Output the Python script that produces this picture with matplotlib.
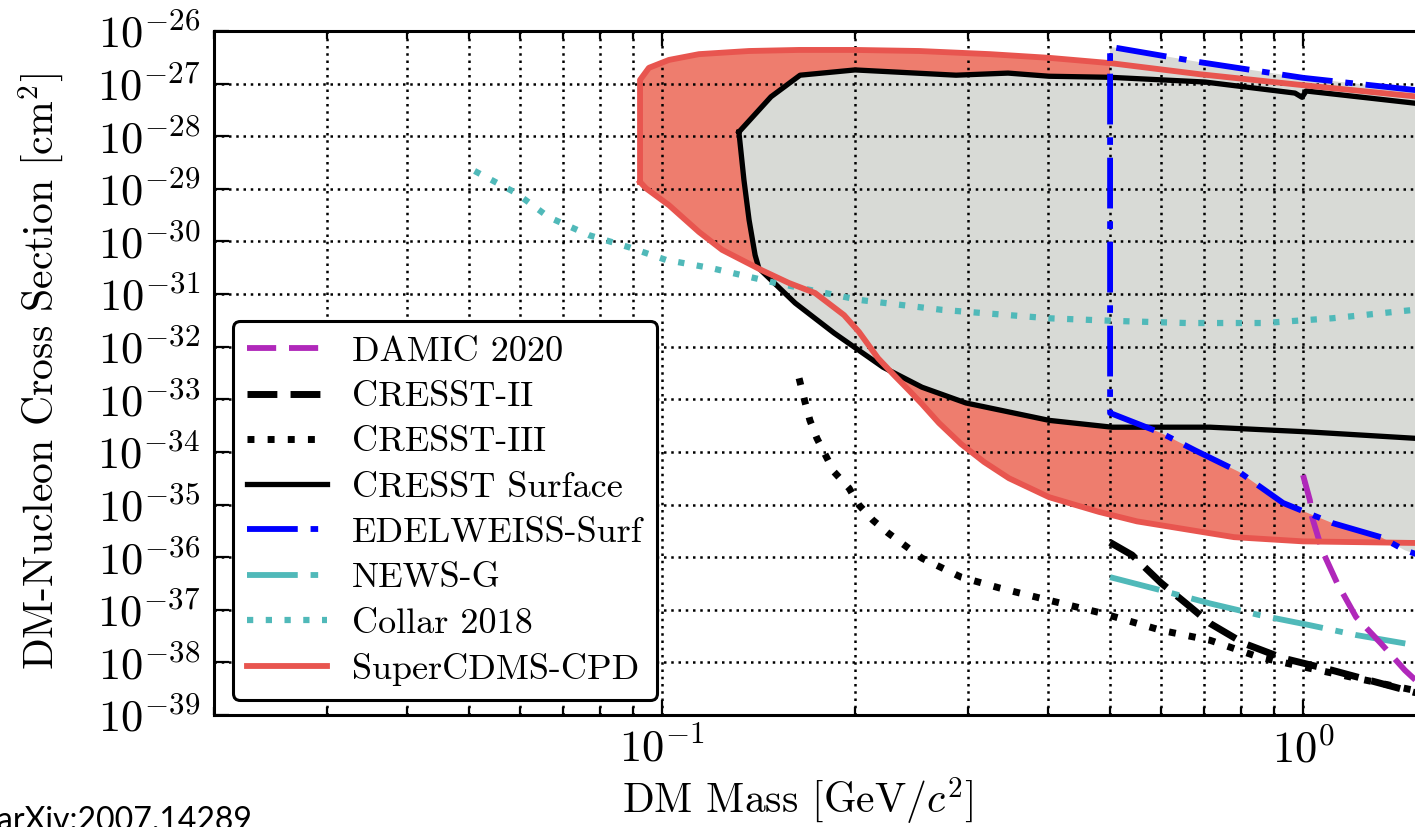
import numpy as np
import matplotlib
matplotlib.use('Agg')
import matplotlib.pyplot as plt
from matplotlib.ticker import LogLocator, FuncFormatter, NullLocator, NullFormatter

# ---------------- data (mass in GeV/c^2, log10 of cross section in cm^2) ----------------
cpd_mass = [0.0924, 0.0924, 0.0954, 0.1025, 0.1142, 0.1367, 0.1636, 0.2, 0.2518, 0.3249,
            0.4016, 0.5, 0.6884, 1.0, 1.49, 1.69,
            1.69, 1.49, 1.0, 0.7804, 0.5508, 0.4805, 0.4016, 0.3477, 0.3179, 0.2928, 0.2704,
            0.2544, 0.2428, 0.2301, 0.2173, 0.2029, 0.1923, 0.1733, 0.1578, 0.1427, 0.1241, 0.1142,
            0.1025, 0.0944, 0.0924]
cpd_logsig = [-28.87, -26.93, -26.70, -26.55, -26.44, -26.38, -26.36, -26.36, -26.38, -26.44,
              -26.51, -26.61, -26.82, -27.03, -27.24, -27.31,
              -35.75, -35.73, -35.70, -35.62, -35.32, -35.14, -34.86, -34.50, -34.19, -33.85, -33.45,
              -33.09, -32.83, -32.54, -32.22, -31.72, -31.40, -30.98, -30.79, -30.54, -30.16, -29.82,
              -29.31, -28.99, -28.87]

cs_mass = [0.1318, 0.1479, 0.1642, 0.2, 0.2876, 0.3465, 0.4016, 0.5, 0.7033, 0.9716, 0.9964,
           1.011, 1.49, 1.69,
           1.69, 1.49, 1.022, 0.7161, 0.5035, 0.4016, 0.2980, 0.2544, 0.2212, 0.1855, 0.1613,
           0.1416, 0.1397, 0.1367, 0.1342, 0.1318]
cs_logsig = [-27.92, -27.25, -26.84, -26.74, -26.84, -26.80, -26.86, -26.88, -26.97, -27.18, -27.26,
             -27.14, -27.37, -27.46,
             -33.78, -33.74, -33.62, -33.53, -33.53, -33.40, -33.07, -32.77, -32.39, -31.74, -31.17,
             -30.51, -30.26, -29.59, -28.83, -27.92]

ed_mass = [1.69, 1.49, 1.0, 0.6884, 0.5, 0.5, 0.6006, 0.6785, 0.7948, 0.9307, 1.110, 1.323, 1.442, 1.69]
ed_logsig = [-27.20, -27.12, -26.89, -26.59, -26.30, -33.26, -33.64, -33.97, -34.38, -34.97,
             -35.35, -35.62, -35.87, -36.15]

collar_mass = [0.051, 0.0592, 0.0666, 0.0769, 0.0888, 0.1014, 0.1197, 0.1506, 0.2029, 0.2734,
               0.4016, 0.5089, 0.657, 0.8694, 1.110, 1.49, 1.69]
collar_logsig = [-28.66, -29.08, -29.54, -29.88, -30.11, -30.35, -30.51, -30.79, -31.11, -31.30,
                 -31.46, -31.51, -31.55, -31.55, -31.46, -31.30, -31.23]

c3_mass = [0.1636, 0.1671, 0.1701, 0.1744, 0.1855, 0.1958, 0.2029, 0.2134, 0.2252, 0.2544, 0.2928,
           0.3370, 0.4016, 0.4875, 0.6006, 0.7161, 0.8538, 1.022, 1.210, 1.49, 1.69]
c3_logsig = [-32.60, -33.05, -33.40, -33.74, -34.38, -34.69, -35.01, -35.30, -35.54, -36.02, -36.38,
             -36.59, -36.82, -37.07, -37.39, -37.58, -37.90, -38.11, -38.30, -38.53, -38.62]

c2_mass = [0.5, 0.541, 0.6006, 0.657, 0.7161, 0.8091, 0.9307, 1.110, 1.323, 1.49, 1.69]
c2_logsig = [-35.72, -35.96, -36.49, -36.88, -37.26, -37.64, -37.92, -38.15, -38.40, -38.57, -38.65]

ng_mass = [0.5, 0.6006, 0.7161, 0.8538, 1.022, 1.210, 1.49, 1.69]
ng_logsig = [-36.38, -36.63, -36.88, -37.10, -37.29, -37.48, -37.67, -37.75]

damic_mass = [1.0, 1.025, 1.033, 1.071, 1.130, 1.210, 1.323, 1.442, 1.517]
damic_logsig = [-34.44, -34.92, -35.24, -35.87, -36.49, -37.14, -37.64, -38.15, -38.40]

legend_labels = ['DAMIC 2020', 'CRESST-II', 'CRESST-III', 'CRESST Surface',
                 'EDELWEISS-Surf', 'NEWS-G', 'Collar 2018', 'SuperCDMS-CPD']

# ---------------- style ----------------
plt.rcParams['font.family'] = 'serif'
plt.rcParams['font.serif'] = ['cmr10']
plt.rcParams['mathtext.fontset'] = 'cm'
plt.rcParams['axes.formatter.use_mathtext'] = True
plt.rcParams['axes.unicode_minus'] = False

RED_FILL = '#EE7D6E'
RED_LINE = '#E8554F'
GREY = '#D8DAD6'
BLUE = '#0000FF'
TEAL = '#50B9B9'
MAGENTA = '#B028BA'

W, H = 1415, 827
fig = plt.figure(figsize=(W / 100, H / 100), dpi=100)

XMIN, XMAX = 0.02, 10.0
left_px, top_px, bottom_px, decade_px = 214, 31, 715, 641
width_px = decade_px * np.log10(XMAX / XMIN)
ax = fig.add_axes([left_px / W, 1 - bottom_px / H, width_px / W, (bottom_px - top_px) / H])
ax.set_xscale('log')
ax.set_yscale('log')
ax.set_xlim(XMIN, XMAX)
ax.set_ylim(1e-39, 1e-26)

def sig(a):
    return 10.0 ** np.asarray(a)

# filled regions
ax.fill(cpd_mass, sig(cpd_logsig), color=RED_FILL, lw=0, zorder=0.2)
ax.fill(cs_mass, sig(cs_logsig), color=GREY, lw=0, zorder=0.3)
ax.fill(ed_mass, sig(ed_logsig), color=GREY, lw=0, zorder=0.3)

# lines
h_cs, = ax.plot(cs_mass, sig(cs_logsig), color='black', lw=3.8, zorder=3)
h_cpd, = ax.plot(cpd_mass, sig(cpd_logsig), color=RED_LINE, lw=4.2, zorder=3.2)
h_ed, = ax.plot(ed_mass, sig(ed_logsig), color=BLUE, lw=4.2, dashes=(8.7, 2.2, 1.3, 2.2), zorder=3.4)
h_col, = ax.plot(collar_mass, sig(collar_logsig), color=TEAL, lw=4.5, dashes=(1.0, 2.0), zorder=3)
h_c3, = ax.plot(c3_mass, sig(c3_logsig), color='black', lw=5.0, dashes=(1.0, 1.9), zorder=3)
h_c2, = ax.plot(c2_mass, sig(c2_logsig), color='black', lw=5.0, dashes=(4.3, 1.9), zorder=3)
h_ng, = ax.plot(ng_mass, sig(ng_logsig), color=TEAL, lw=4.2, dashes=(8.7, 2.2, 1.3, 2.2), zorder=3)
h_dm, = ax.plot(damic_mass, sig(damic_logsig), color=MAGENTA, lw=4.2, dashes=(5.0, 2.2), zorder=3)

# ticks & grid
def fmt(v, pos):
    return r'$10^{%d}$' % int(round(np.log10(v)))

ax.yaxis.set_major_locator(LogLocator(base=10, numticks=40))
ax.yaxis.set_minor_locator(NullLocator())
ax.yaxis.set_major_formatter(FuncFormatter(fmt))
ax.xaxis.set_major_locator(LogLocator(base=10, numticks=10))
ax.xaxis.set_minor_locator(LogLocator(base=10, subs=np.arange(2, 10), numticks=40))
ax.xaxis.set_major_formatter(FuncFormatter(fmt))
ax.xaxis.set_minor_formatter(NullFormatter())

ax.tick_params(which='both', direction='in', top=True, right=True, labelsize=32, width=1.6)
ax.tick_params(which='major', length=11, pad=10)
ax.tick_params(which='minor', length=6)
for sp in ax.spines.values():
    sp.set_linewidth(2.2)

ax.set_axisbelow(True)
ax.grid(True, which='major', axis='both', color='black', lw=1.8, dashes=(1.0, 1.9))
ax.grid(True, which='minor', axis='x', color='black', lw=1.8, dashes=(1.0, 1.9))

# labels
ax.set_xlabel(r'DM Mass [GeV/$c^2$]', fontsize=30)
ax.xaxis.set_label_coords(797 / W, 1 - 776 / H, transform=fig.transFigure)
ax.set_ylabel(r'DM-Nucleon Cross Section [cm$^2$]', fontsize=30)
ax.yaxis.set_label_coords(66 / W, 1 - 372 / H, transform=fig.transFigure)

# legend
handles = [h_dm, h_c2, h_c3, h_cs, h_ed, h_ng, h_col, h_cpd]
leg = ax.legend(handles, legend_labels, loc='lower left', fontsize=26,
                bbox_to_anchor=(233 / W, 1 - 700 / H), bbox_transform=fig.transFigure,
                borderaxespad=0, handlelength=2.2, handletextpad=0.7, labelspacing=0.36,
                borderpad=0.4, fancybox=True, framealpha=1.0, edgecolor='black')
leg.get_frame().set_linewidth(2.2)
leg.set_zorder(10)

fig.text(-3 / W, -3 / H, 'arXiv:2007.14289', family='Lato', fontsize=23, ha='left', va='baseline')

fig.savefig('out.png', dpi=100)
